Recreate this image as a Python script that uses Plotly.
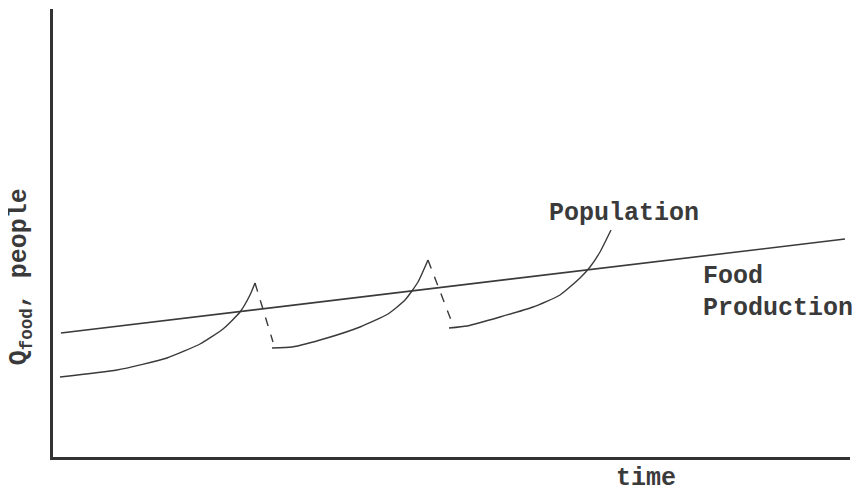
import plotly.graph_objects as go

# values (arbitrary units, time on x, quantity on y)
food_t = [8, 792]
food_q = [124, 218]

pop1_t = [7, 64, 114, 147, 170, 187, 197, 202]
pop1_q = [80, 87, 99, 113, 128, 145, 162, 174]
drop1_t = [202, 220]
drop1_q = [174, 115]

pop2_t = [219, 239, 274, 307, 335, 352, 365, 375]
pop2_q = [109, 110, 119, 130, 143, 157, 175, 197]
drop2_t = [375, 398]
drop2_q = [197, 137]

pop3_t = [396, 414, 447, 480, 507, 527, 537, 547, 558]
pop3_q = [129, 131, 140, 150, 162, 179, 190, 205, 227]

ink = "#3a3a3a"
label_font = dict(family="Liberation Mono, DejaVu Sans Mono, monospace",
                  size=25, color=ink)

fig = go.Figure()

fig.add_trace(go.Scatter(x=food_t, y=food_q, mode="lines",
                         line=dict(color=ink, width=1.6)))
for t, q in [(pop1_t, pop1_q), (pop2_t, pop2_q), (pop3_t, pop3_q)]:
    fig.add_trace(go.Scatter(x=t, y=q, mode="lines",
                             line=dict(color=ink, width=1.4, shape="spline",
                                       smoothing=0.5)))
for t, q in [(drop1_t, drop1_q), (drop2_t, drop2_q)]:
    fig.add_trace(go.Scatter(x=t, y=q, mode="lines",
                             line=dict(color=ink, width=1.4, dash="dash")))

fig.update_traces(showlegend=False, hoverinfo="skip")

annotations = [
    dict(x=494, y=244, text="<b>Population</b>", xanchor="left"),
    dict(x=648, y=181, text="<b>Food</b>", xanchor="left"),
    dict(x=648, y=149, text="<b>Production</b>", xanchor="left"),
]
for a in annotations:
    fig.add_annotation(xref="x", yref="y", showarrow=False,
                       yanchor="middle", font=label_font, **a)

# axis titles placed by hand (page has an 8px body margin)
fig.add_annotation(xref="paper", yref="paper", x=(646 - 53) / 797, y=-0.048,
                   text="<b>time</b>", showarrow=False,
                   xanchor="center", yanchor="middle", font=label_font)
fig.add_annotation(xref="paper", yref="paper", x=-0.041, y=(457 - 277) / 448,
                   text="<b>Q<sub>food</sub>, people</b>", showarrow=False,
                   textangle=-90, xanchor="center", yanchor="middle",
                   font=label_font)

fig.update_xaxes(range=[0, 797], showgrid=False, zeroline=False,
                 showticklabels=False, ticks="", showline=True,
                 linecolor="#333", linewidth=3)
fig.update_yaxes(range=[0, 448], showgrid=False, zeroline=False,
                 showticklabels=False, ticks="", showline=True,
                 linecolor="#333", linewidth=3)

fig.update_layout(
    width=852,
    height=481,
    margin={'l': 45, 'r': 10, 't': 1, 'b': 32, 'autoexpand': False},
    paper_bgcolor="white",
    plot_bgcolor="white",
)

fig.write_html("out.html")
